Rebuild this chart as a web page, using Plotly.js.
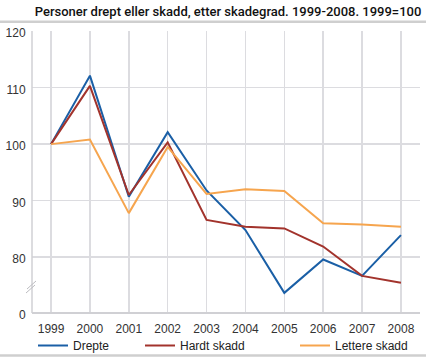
<!DOCTYPE html>
<html><head><meta charset="utf-8">
<script src="https://cdn.plot.ly/plotly-3.0.1.min.js"></script>
<style>html,body{margin:0;padding:0;background:#fff}#c{width:426px;height:358px}</style>
</head><body><div id="c"></div>
<script>
const years = ["1999","2000","2001","2002","2003","2004","2005","2006","2007","2008"];
const drepte = [100, 112.1, 90.7, 102.1, 91.8, 84.8, 73.7, 79.6, 76.7, 83.9];
const hardtSkadd = [100, 110.3, 91.0, 100.3, 86.6, 85.4, 85.1, 81.9, 76.7, 75.5];
const lettereSkadd = [100, 100.8, 87.8, 99.5, 91.2, 92.0, 91.7, 86.0, 85.8, 85.4];
const yTickVals = [70.14, 80, 90, 100, 110, 120];
const yTickText = ["0", "80", "90", "100", "110", "120"];

const W = 426, L = 32, R = 6, T = 31, B = 45;
const pw = W - L - R, ph = 358 - T - B;
const px = v => (v - L) / pw;
const py = v => (358 - B - v) / ph;

const mk = (name, y, color, lg) => ({
  type: 'scatter', mode: 'lines', name, x: years, y,
  line: {color, width: 2}, legend: lg, hoverinfo: 'skip'
});
const data = [
  mk('Drepte', drepte, '#1a5fa6', 'legend'),
  mk('Hardt skadd', hardtSkadd, '#a2332c', 'legend2'),
  mk('Lettere skadd', lettereSkadd, '#f6a54e', 'legend3')
];
const lgBase = {orientation: 'h', yanchor: 'top', xanchor: 'left', y: py(331),
  font: {family: 'Liberation Sans, Arial, sans-serif', size: 12, color: '#222'},
  bgcolor: 'rgba(0,0,0,0)', itemwidth: 30, tracegroupgap: 0};
const layout = {
  width: 426, height: 358,
  margin: {l: L, r: R, t: T, b: B, pad: 0, autoexpand: false},
  paper_bgcolor: '#fff', plot_bgcolor: '#fff',
  title: {text: 'Personer drept eller skadd, etter skadegrad. 1999-2008. 1999=100',
    x: 0.007, xanchor: 'left', xref: 'paper', y: 1 - 11/358, yanchor: 'middle', yref: 'container',
    font: {family: 'Roboto, Liberation Sans, sans-serif', size: 13, weight: 500, color: '#111'}},
  xaxis: {type: 'category', range: [-0.49, 9.49], showgrid: true, gridcolor: '#dcdce0', gridwidth: 1.5,
    showline: false, zeroline: false, ticks: 'outside', ticklen: 5, tickcolor: 'rgba(0,0,0,0)',
    tickfont: {family: 'Liberation Sans, Arial, sans-serif', size: 12, color: '#333'}, fixedrange: true},
  yaxis: {range: [70.14, 120], tickvals: yTickVals, ticktext: yTickText, showgrid: true,
    gridcolor: '#dcdce0', gridwidth: 1.5, zeroline: false, showline: false,
    ticks: 'outside', ticklen: 3, tickcolor: 'rgba(0,0,0,0)', ticklabelshift: 2,
    tickfont: {family: 'Liberation Sans, Arial, sans-serif', size: 12, color: '#333'}, fixedrange: true},
  showlegend: true,
  legend: Object.assign({}, lgBase, {x: px(33)}),
  legend2: Object.assign({}, lgBase, {x: px(140)}),
  legend3: Object.assign({}, lgBase, {x: px(295)}),
  shapes: [
    {type: 'line', xref: 'paper', yref: 'paper', x0: 0, x1: 0, y0: 0, y1: 1, line: {color: '#d0d0d4', width: 1.5}},
    {type: 'line', xref: 'paper', yref: 'paper', x0: 0, x1: 1, y0: 0, y1: 0, line: {color: '#d0d0d4', width: 2}},
    {type: 'line', xref: 'paper', yref: 'paper', x0: px(0), x1: px(426), y0: py(21.7), y1: py(21.7), line: {color: '#cfcfcf', width: 2.5}},
    {type: 'line', xref: 'paper', yref: 'paper', x0: px(0), x1: px(426), y0: py(355.5), y1: py(355.5), line: {color: '#cfcfcf', width: 2.5}},
    {type: 'line', xref: 'paper', yref: 'paper', x0: px(26), x1: px(35), y0: py(293), y1: py(285), line: {color: '#bcbcc0', width: 1}},
    {type: 'line', xref: 'paper', yref: 'paper', x0: px(27), x1: px(36), y0: py(289), y1: py(281), line: {color: '#bcbcc0', width: 1}}
  ]
};
Plotly.newPlot('c', data, layout, {staticPlot: true, displayModeBar: false});
</script></body></html>
